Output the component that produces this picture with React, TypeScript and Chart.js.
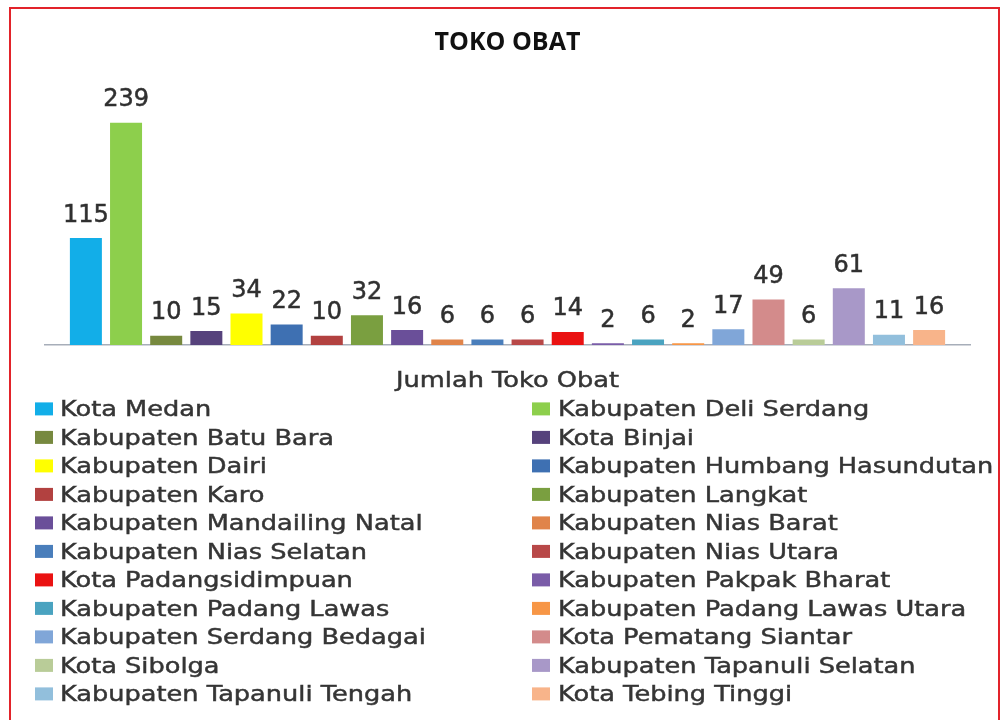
import React, { useEffect, useRef } from 'react';
import { Chart, registerables } from 'chart.js';

Chart.register(...registerables);

const chartTitle = 'TOKO OBAT';
const categoryLabels = ['Jumlah Toko Obat'];

const regions = [
  'Kota Medan',
  'Kabupaten Deli Serdang',
  'Kabupaten Batu Bara',
  'Kota Binjai',
  'Kabupaten Dairi',
  'Kabupaten Humbang Hasundutan',
  'Kabupaten Karo',
  'Kabupaten Langkat',
  'Kabupaten Mandailing Natal',
  'Kabupaten Nias Barat',
  'Kabupaten Nias Selatan',
  'Kabupaten Nias Utara',
  'Kota Padangsidimpuan',
  'Kabupaten Pakpak Bharat',
  'Kabupaten Padang Lawas',
  'Kabupaten Padang Lawas Utara',
  'Kabupaten Serdang Bedagai',
  'Kota Pematang Siantar',
  'Kota Sibolga',
  'Kabupaten Tapanuli Selatan',
  'Kabupaten Tapanuli Tengah',
  'Kota Tebing Tinggi',
];

const counts = [115, 239, 10, 15, 34, 22, 10, 32, 16, 6, 6, 6, 14, 2, 6, 2, 17, 49, 6, 61, 11, 16];

const colors = [
  '#12aee8',
  '#8dcf4c',
  '#77893f',
  '#56427c',
  '#ffff00',
  '#3e70b2',
  '#b24140',
  '#7a9f40',
  '#6a4f99',
  '#e0844a',
  '#4a7ebb',
  '#b84848',
  '#ea1212',
  '#7a5ca8',
  '#4aa3c0',
  '#f79646',
  '#80a6d8',
  '#d38b8b',
  '#b9cc98',
  '#a898c8',
  '#92bfdc',
  '#f8b48a',
];

const yMax = 250;

const STRETCH = 1.25;
const TEXT_FONT = '"DejaVu Sans", sans-serif';

function drawStretched(ctx: CanvasRenderingContext2D, text: string, x: number, y: number, align: CanvasTextAlign) {
  ctx.save();
  ctx.translate(x, y);
  ctx.scale(STRETCH, 1);
  ctx.textAlign = align;
  ctx.textBaseline = 'alphabetic';
  ctx.fillText(text, 0, 0);
  ctx.lineWidth = 0.45;
  ctx.strokeText(text, 0, 0);
  ctx.restore();
}

const overlayPlugin = {
  id: 'overlayPlugin',
  afterDatasetsDraw(chart: any) {
    const ctx: CanvasRenderingContext2D = chart.ctx;
    ctx.save();
    // value labels
    ctx.font = `24px ${TEXT_FONT}`;
    ctx.fillStyle = '#303030';
    ctx.strokeStyle = '#303030';
    ctx.lineWidth = 0.5;
    ctx.textAlign = 'center';
    ctx.textBaseline = 'alphabetic';
    chart.data.datasets.forEach((ds: any, i: number) => {
      const meta = chart.getDatasetMeta(i);
      const bar = meta.data[0];
      if (!bar) return;
      ctx.fillText(String(ds.data[0]), bar.x, bar.y - 16.5);
      ctx.strokeText(String(ds.data[0]), bar.x, bar.y - 16.5);
    });

    // category label under the axis
    const xs = chart.scales.x;
    const cx = xs.getPixelForValue(0);
    ctx.font = `20.5px ${TEXT_FONT}`;
    ctx.fillStyle = '#353535';
    ctx.strokeStyle = '#353535';
    drawStretched(ctx, chart.data.labels[0], cx, xs.bottom + 42, 'center');

    // legend, two columns, row-major
    const colBox = [35, 532];
    const colText = [60, 558];
    const firstBaseline = 416.4;
    const rowStep = 28.5;
    chart.data.datasets.forEach((ds: any, i: number) => {
      const col = i % 2;
      const row = Math.floor(i / 2);
      const base = firstBaseline + row * rowStep;
      ctx.fillStyle = ds.backgroundColor;
      ctx.fillRect(colBox[col], base - 14, 18, 13);
      ctx.fillStyle = '#353535';
      ctx.strokeStyle = '#353535';
      drawStretched(ctx, ds.label, colText[col], base, 'left');
    });
    ctx.restore();
  },
};

export default function App() {
  const canvasRef = useRef<HTMLCanvasElement | null>(null);

  useEffect(() => {
    if (!canvasRef.current) return;
    const chart = new Chart(canvasRef.current, {
      type: 'bar',
      data: {
        labels: categoryLabels,
        datasets: regions.map((name, i) => ({
          label: name,
          data: [counts[i]],
          backgroundColor: colors[i],
          borderWidth: 0,
          categoryPercentage: 0.955,
          barPercentage: 0.797,
        })),
      },
      options: {
        animation: false,
        responsive: false,
        events: [],
        layout: { padding: { top: 10, left: 45, right: 31, bottom: 375 } },
        plugins: {
          legend: { display: false },
          tooltip: { enabled: false },
          title: {
            display: true,
            text: chartTitle,
            color: '#111111',
            font: { family: '"Open Sans", sans-serif', size: 25, weight: 'bold' },
            padding: { top: 18, bottom: 54.5 },
          },
        },
        scales: {
          x: {
            grid: { display: false, drawTicks: false },
            border: { display: true, color: '#a7aeb9', width: 1.5 },
            ticks: { display: false },
          },
          y: {
            display: false,
            min: 0,
            max: yMax,
          },
        },
      },
      plugins: [overlayPlugin],
    } as any);
    return () => chart.destroy();
  }, []);

  return (
    <div
      style={{
        position: 'fixed',
        left: 0,
        top: 0,
        width: 1001,
        height: 720,
        background: '#ffffff',
        overflow: 'hidden',
      }}
    >
      <div
        style={{
          position: 'absolute',
          left: 9,
          top: 7,
          width: 991,
          height: 716,
          boxSizing: 'border-box',
          border: '2px solid #e2232a',
        }}
      />
      <canvas
        ref={canvasRef}
        width={1001}
        height={720}
        style={{ position: 'absolute', left: 0, top: 0 }}
      />
    </div>
  );
}
